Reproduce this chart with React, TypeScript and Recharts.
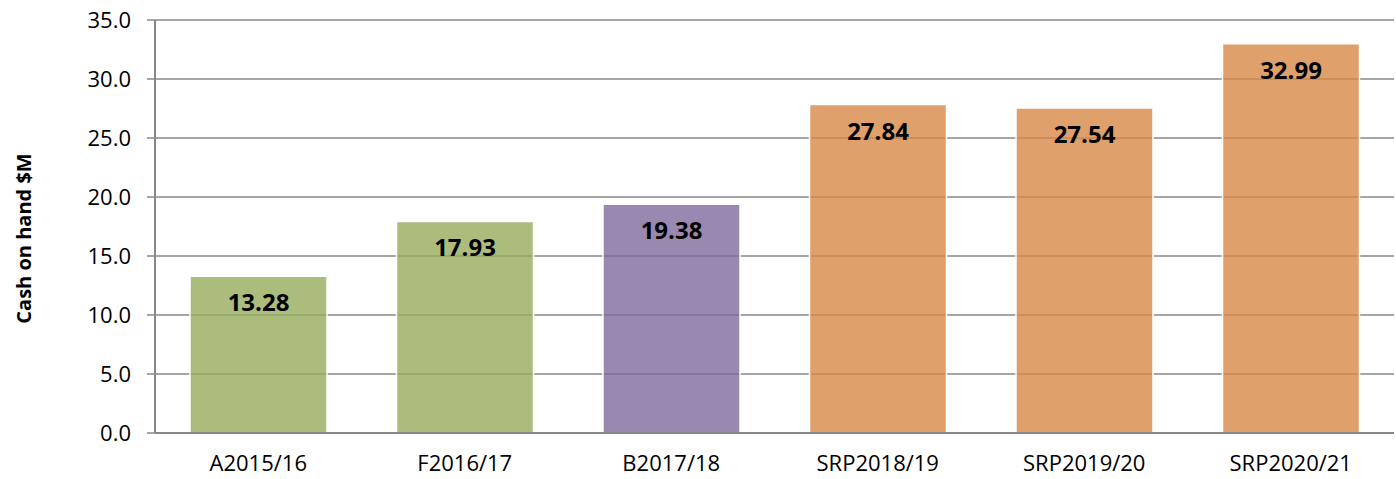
import { BarChart, Bar, XAxis, YAxis, CartesianGrid, LabelList, Cell } from 'recharts';

// Cash on hand by year ($M)
const categories = ['A2015/16', 'F2016/17', 'B2017/18', 'SRP2018/19', 'SRP2019/20', 'SRP2020/21'];
const cashOnHand = [13.28, 17.93, 19.38, 27.84, 27.54, 32.99];
const yTicks = [0, 5, 10, 15, 20, 25, 30, 35];

// fill per bar: actual (green), forecast (green), budget (purple), SRP (orange)
const barColors = ['#97AB5B', '#97AB5B', '#7F6A9B', '#D78846', '#D78846', '#D78846'];

const FONT = '"Open Sans", sans-serif';
const GRID = '#888888';

const data = categories.map((name, i) => ({ name, value: cashOnHand[i] }));

function YTitle(props: any) {
  const vb = props.viewBox || {};
  const cx = 23;
  const cy = (vb.y ?? 20) + (vb.height ?? 413) / 2 + 12;
  return (
    <text
      x={cx}
      y={cy}
      transform={`rotate(-90 ${cx} ${cy})`}
      textAnchor="middle"
      dominantBaseline="central"
      fontFamily={FONT}
      fontWeight={700}
      fontSize={20}
      fill="#000"
    >
      Cash on hand $M
    </text>
  );
}

export default function App() {
  return (
    <div style={{ width: 1396, height: 479 }}>
      <style>{'body{margin:0}'}</style>
      <BarChart
        width={1396}
        height={479}
        data={data}
        margin={{ top: 20, right: 2, bottom: 0, left: 0 }}
        barSize={137}
      >
        <CartesianGrid vertical={false} stroke={GRID} strokeWidth={1.5} />
        <XAxis
          dataKey="name"
          height={46}
          tickLine={false}
          tickSize={0}
          tickMargin={22}
          axisLine={{ stroke: GRID, strokeWidth: 2 }}
          tick={{ fill: '#000', fontSize: 22, fontFamily: FONT }}
          interval={0}
        />
        <YAxis
          width={155}
          domain={[0, 35]}
          ticks={yTicks}
          tickFormatter={(v: number) => v.toFixed(1)}
          tickSize={8}
          tickMargin={16}
          tickLine={{ stroke: GRID, strokeWidth: 1.5 }}
          axisLine={{ stroke: GRID, strokeWidth: 2 }}
          tick={{ fill: '#000', fontSize: 22, fontFamily: FONT }}
          label={{ content: <YTitle /> }}
        />
        <Bar
          dataKey="value"
          isAnimationActive={false}
          fillOpacity={0.8}
          stroke="#ffffff"
          strokeWidth={1.5}
        >
          {data.map((_, i) => (
            <Cell key={`cell-${i}`} fill={barColors[i]} />
          ))}
          <LabelList
            dataKey="value"
            position="insideTop"
            offset={18}
            formatter={(v: number) => v.toFixed(2)}
            fill="#000"
            fontSize={24}
            fontWeight={700}
            fontFamily={FONT}
          />
        </Bar>
      </BarChart>
    </div>
  );
}
